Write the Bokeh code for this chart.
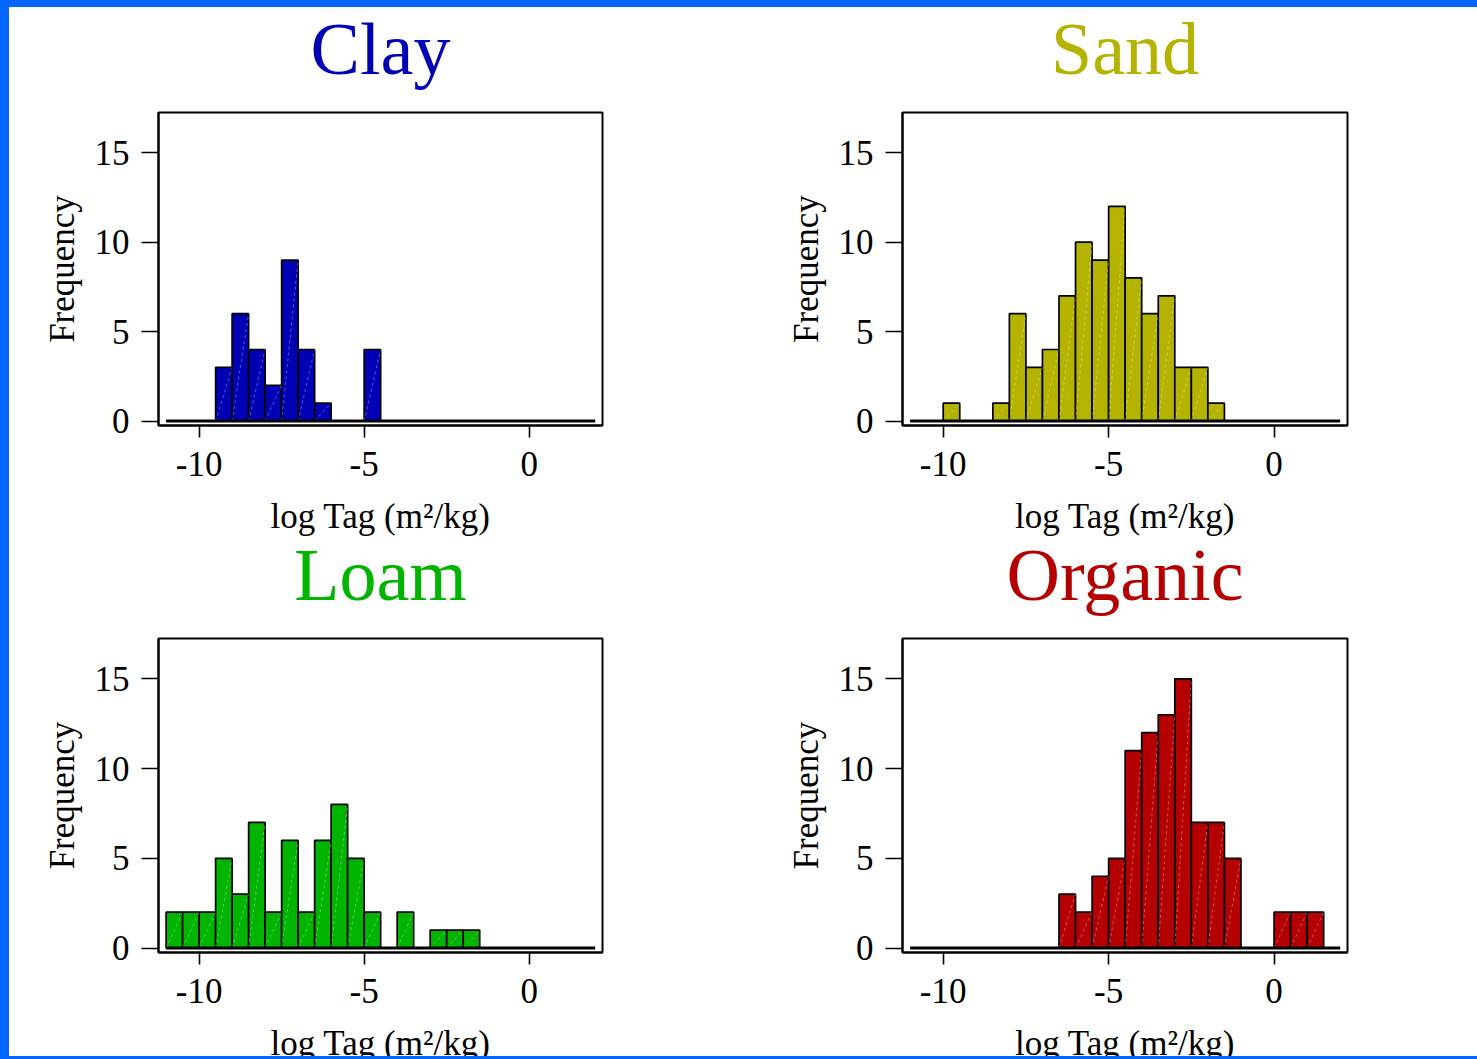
from bokeh.plotting import figure
from bokeh.models import Range1d, FixedTicker, ColumnDataSource, GlobalInlineStyleSheet
from bokeh.layouts import column, row
from bokeh.embed import file_html
from bokeh.resources import INLINE

# ---------------- data ----------------
BIN_WIDTH = 0.5
CLAY_START = -9.5
CLAY_COUNTS = [3, 6, 4, 2, 9, 4, 1, 0, 0, 4]
SAND_START = -10.0
SAND_COUNTS = [1, 0, 0, 1, 6, 3, 4, 7, 10, 9, 12, 8, 6, 7, 3, 3, 1]
LOAM_START = -11.0
LOAM_COUNTS = [2, 2, 2, 5, 3, 7, 2, 6, 2, 6, 8, 5, 2, 0, 2, 0, 1, 1, 1]
ORGANIC_START = -6.5
ORGANIC_COUNTS = [3, 2, 4, 5, 11, 12, 13, 15, 7, 7, 5, 0, 0, 2, 2, 2]

PANEL_NAMES = ["Clay", "Sand", "Loam", "Organic"]
PANEL_COLORS = ["#0000b4", "#b4b400", "#00b400", "#b40000"]

X_TICKS = [-10, -5, 0]
Y_TICKS = [0, 5, 10, 15]
BASELINE_X = [-11, 2]
BASELINE_Y = [0, 0]

X_LABEL = "log Tag (m\u00b2/kg)"
Y_LABEL = "Frequency"

X_RANGE = (-11.23, 2.22)
Y_RANGE = (-0.25, 17.25)

FONT = "Liberation Serif"
SLIDE_BLUE = "#0066ff"


def make_panel(name, color, start, counts, fw, fh, bl, br, bt, bb):
    p = figure(frame_width=fw, frame_height=fh,
               x_range=Range1d(*X_RANGE), y_range=Range1d(*Y_RANGE),
               output_backend="svg", toolbar_location=None,
               min_border_left=bl, min_border_right=br,
               min_border_top=bt, min_border_bottom=bb)
    p.background_fill_color = "white"
    p.border_fill_color = "white"
    p.border_fill_alpha = 0
    p.outline_line_color = "black"
    p.outline_line_width = 2
    p.xgrid.visible = False
    p.ygrid.visible = False

    lefts, rights, tops = [], [], []
    for i, c in enumerate(counts):
        if c > 0:
            lefts.append(start + i * BIN_WIDTH)
            rights.append(start + (i + 1) * BIN_WIDTH)
            tops.append(c)
    src = ColumnDataSource(dict(left=lefts, right=rights, top=tops,
                                bottom=[0] * len(tops)))
    p.quad(left="left", right="right", top="top", bottom="bottom", source=src,
           fill_color=color, line_color="black", line_width=1.7)
    p.segment(x0="left", y0="bottom", x1="right", y1="top", source=src,
              line_color="white", line_alpha=0.35, line_width=1, line_dash="3 3")
    p.line(x=BASELINE_X, y=BASELINE_Y, line_color="black", line_width=3)

    for ax in (p.xaxis[0], p.yaxis[0]):
        ax.axis_line_color = "black"
        ax.axis_line_width = 2
        ax.major_tick_line_color = "black"
        ax.major_tick_line_width = 1.6
        ax.major_tick_in = 0
        ax.minor_tick_line_color = None
        ax.major_label_text_font = FONT
        ax.major_label_text_font_size = "35px"
        ax.major_label_text_color = "black"
        ax.axis_label_text_font = FONT
        ax.axis_label_text_font_size = "35px"
        ax.axis_label_text_font_style = "normal"
        ax.axis_label_text_color = "black"

    p.xaxis.ticker = FixedTicker(ticks=X_TICKS)
    p.xaxis.major_label_overrides = {t: str(t) for t in X_TICKS}
    p.xaxis.major_tick_out = 12
    p.xaxis.major_label_standoff = 14
    p.xaxis.axis_label = X_LABEL
    p.xaxis.axis_label_standoff = 18

    p.yaxis.ticker = FixedTicker(ticks=Y_TICKS)
    p.yaxis.major_label_overrides = {t: str(t) for t in Y_TICKS}
    p.yaxis.major_tick_out = 17
    p.yaxis.major_label_standoff = 12
    p.yaxis.axis_label = Y_LABEL
    p.yaxis.axis_label_standoff = 10

    p.title.text = name
    p.title.align = "center"
    p.title.text_font = FONT
    p.title.text_font_size = "74px"
    p.title.text_font_style = "normal"
    p.title.text_color = color
    p.title.standoff = 46
    return p


# row 1: canvas starts 30px above the page top (see transform below)
p1 = make_panel(PANEL_NAMES[0], PANEL_COLORS[0], CLAY_START, CLAY_COUNTS,
                444, 313, 149, 139, 142, 115)
p2 = make_panel(PANEL_NAMES[1], PANEL_COLORS[1], SAND_START, SAND_COUNTS,
                445, 313, 161, 130, 142, 115)
# row 2: shifted up 38px so that its title sits in row 1's bottom margin
p3 = make_panel(PANEL_NAMES[2], PANEL_COLORS[2], LOAM_START, LOAM_COUNTS,
                444, 314, 149, 139, 136, 112)
p4 = make_panel(PANEL_NAMES[3], PANEL_COLORS[3], ORGANIC_START, ORGANIC_COUNTS,
                445, 314, 161, 130, 136, 112)

r1 = row(p1, p2)
r2 = row(p3, p4)
layout = column(r1, r2)
layout.styles = {"background-color": "white", "transform": "translateY(-30px)"}
r1.styles = {"background": "linear-gradient(to bottom, %s 0px, %s 37px, white 37px)"
             % (SLIDE_BLUE, SLIDE_BLUE)}
r2.styles = {"transform": "translateY(-38px)"}
layout.stylesheets = [GlobalInlineStyleSheet(
    css=("html { margin: 0; background: %s; overflow: hidden; } "
         "body { margin: 0; padding: 0 0 0 9px; height: 1056px; overflow: hidden; }"
         % SLIDE_BLUE))]

open("out.html", "w").write(file_html(layout, INLINE))
